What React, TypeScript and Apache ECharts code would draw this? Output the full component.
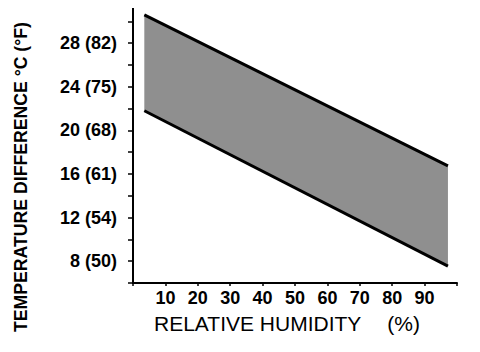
import React, { useEffect, useRef } from "react";
import * as echarts from "echarts";

// Relative humidity (%) at the two ends of the band
const humidity = [3.5, 97.2];
// Upper and lower boundary of the band, °C
const upperTemp = [30.6, 16.75];
const lowerTemp = [21.8, 7.55];

const xTickValues = [10, 20, 30, 40, 50, 60, 70, 80, 90];
const yTickValues = [8, 12, 16, 20, 24, 28];
const yTickLabels = ["8 (50)", "12 (54)", "16 (61)", "20 (68)", "24 (75)", "28 (82)"];

const yTitle = "TEMPERATURE DIFFERENCE °C (°F)";
const xTitle = "RELATIVE HUMIDITY";
const xUnit = "(%)";

const FONT = "Liberation Sans, Arial, sans-serif";

export default function App() {
  const ref = useRef<HTMLDivElement>(null);
  useEffect(() => {
    if (!ref.current) return;
    const chart = echarts.init(ref.current, null, { renderer: "svg" });
    const bandData = humidity.map((h, i) => [h, lowerTemp[i], upperTemp[i]]);
    chart.setOption({
      animation: false,
      backgroundColor: "#ffffff",
      grid: { left: 133, right: 23, top: 5, bottom: 69, containLabel: false },
      xAxis: {
        type: "value",
        min: 0,
        max: 100,
        interval: 10,
        splitLine: { show: false },
        axisLine: { show: true, lineStyle: { color: "#000", width: 2 } },
        axisTick: { show: true, length: 3, inside: false, lineStyle: { color: "#000", width: 1.5 } },
        axisLabel: {
          color: "#000",
          fontFamily: FONT,
          fontWeight: "bold",
          fontSize: 18,
          margin: 6,
          formatter: (v: number) => (xTickValues.includes(v) ? String(v) : ""),
        },
        name: `{a|${xTitle}}{b|${xUnit}}`,
        nameLocation: "middle",
        nameGap: 30,
        nameTextStyle: {
          rich: {
            a: { fontFamily: FONT, fontSize: 21, color: "#000", padding: [0, 0, 0, 0] },
            b: { fontFamily: FONT, fontSize: 21, color: "#000", padding: [0, 16, 0, 26] },
          },
        },
      },
      yAxis: {
        type: "value",
        min: 6,
        max: 31.5,
        interval: 2,
        splitLine: { show: false },
        axisLine: { show: true, lineStyle: { color: "#000", width: 2 } },
        axisTick: { show: true, length: 5, inside: false, lineStyle: { color: "#000", width: 1.5 } },
        axisLabel: {
          color: "#000",
          fontFamily: FONT,
          fontWeight: "bold",
          fontSize: 18,
          margin: 16,
          formatter: (v: number) => {
            const i = yTickValues.indexOf(v);
            return i >= 0 ? yTickLabels[i] : "";
          },
        },
      },
      graphic: [
        {
          type: "text",
          x: 20,
          y: 177,
          rotation: Math.PI / 2,
          scaleX: 0.93,
          style: {
            text: yTitle,
            fill: "#000",
            font: "bold 19px 'Liberation Sans', Arial, sans-serif",
            align: "center",
            verticalAlign: "middle",
          },
        },
      ],
      series: [
        {
          type: "custom",
          data: bandData,
          renderItem: (params: any, api: any) => {
            const i = params.dataIndex;
            if (i >= bandData.length - 1) return null;
            const a = bandData[i];
            const b = bandData[i + 1];
            const pts = [
              api.coord([a[0], a[1]]),
              api.coord([a[0], a[2]]),
              api.coord([b[0], b[2]]),
              api.coord([b[0], b[1]]),
            ];
            return {
              type: "polygon",
              shape: { points: pts },
              style: { fill: "#8f8f8f" },
            };
          },
          z: 1,
        },
        {
          type: "line",
          data: humidity.map((h, i) => [h, upperTemp[i]]),
          symbol: "none",
          lineStyle: { color: "#000", width: 3 },
          z: 2,
        },
        {
          type: "line",
          data: humidity.map((h, i) => [h, lowerTemp[i]]),
          symbol: "none",
          lineStyle: { color: "#000", width: 3 },
          z: 2,
        },
      ],
    });
    return () => chart.dispose();
  }, []);
  return <div ref={ref} style={{ width: 480, height: 352, margin: -8 }} />;
}
